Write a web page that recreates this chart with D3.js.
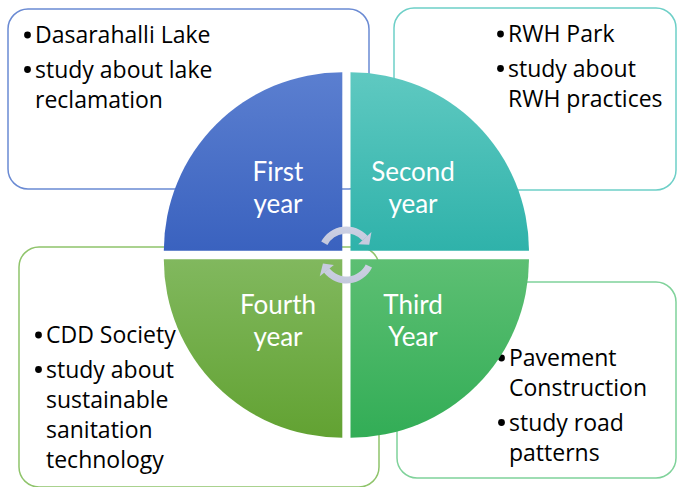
<!DOCTYPE html>
<html><head><meta charset="utf-8">
<script src="https://cdn.jsdelivr.net/npm/d3@7"></script>
<style>html,body{margin:0;padding:0;background:#fff;}svg{display:block;}</style>
</head><body>
<svg id="chart" width="677" height="487"></svg>
<script>
// ---- data ----
const quadrantLabels = [["Second","year"],["Third","Year"],["Fourth","year"],["First","year"]];
const quadrantTop = ["#5fc9c1","#5dbf73","#81b85e","#5b7fd0"];
const quadrantBottom = ["#2fb2aa","#32ad56","#62a232","#3a62bf"];
const boxStroke = ["#6dcfc7","#7fd29a","#8fc46b","#6a8ad3"];
const boxBullets = [
  [["RWH Park"],["study about","RWH practices"]],
  [["Pavement","Construction"],["study road","patterns"]],
  [["CDD Society"],["study about","sustainable","sanitation","technology"]],
  [["Dasarahalli Lake"],["study about lake","reclamation"]]
];

// ---- layout ----
const W = 677, H = 487;
const cx = 346.4, cy = 255, R = 178.5, gx = 4.1, gy = 4.3;
const boxes = [
  {x:394, y:8, w:282, h:182, tx:508, ty:42},
  {x:397, y:282, w:279, h:196, tx:509, ty:366},
  {x:19, y:247, w:360, h:240, tx:46, ty:343},
  {x:8, y:9, w:361, h:180, tx:35, ty:43}
];
const lineH = 30, paraGap = 4.5;
const labelPos = [[413,181],[413,314],[278,314],[278,181]];
const offsets = [[gx,-gy],[gx,gy],[-gx,gy],[-gx,-gy]];

const svg = d3.select("#chart");
const defs = svg.append("defs");
quadrantTop.forEach((c,i)=>{
  const g = defs.append("linearGradient").attr("id","qg"+i).attr("x1",0).attr("y1",0).attr("x2",0).attr("y2",1);
  g.append("stop").attr("offset","0%").attr("stop-color",c);
  g.append("stop").attr("offset","100%").attr("stop-color",quadrantBottom[i]);
});
const ag = defs.append("linearGradient").attr("id","ag").attr("x1",0).attr("y1",0).attr("x2",0).attr("y2",1);
ag.append("stop").attr("offset","0%").attr("stop-color","#cdd1e4");
ag.append("stop").attr("offset","100%").attr("stop-color","#c3c8dc");

// boxes
const boxFont = "'Open Sans', Lato, sans-serif";
const labFont = "Lato, 'Open Sans', sans-serif";
boxes.forEach((b,i)=>{
  svg.append("rect").attr("x",b.x).attr("y",b.y).attr("width",b.w).attr("height",b.h)
    .attr("rx",20).attr("ry",20).attr("fill","#fff")
    .attr("stroke",boxStroke[i]).attr("stroke-width",1.5);
  let y = b.ty;
  const t = svg.append("g").attr("font-family",boxFont).attr("font-size",23).attr("fill","#000");
  boxBullets[i].forEach((para)=>{
    t.append("circle").attr("cx",b.tx-7.5).attr("cy",y-8).attr("r",3.4).attr("fill","#000");
    para.forEach((line)=>{
      t.append("text").attr("x",b.tx).attr("y",y).text(line);
      y += lineH;
    });
    y += paraGap;
  });
});

// quadrants
const arc = d3.arc().innerRadius(0).outerRadius(R);
const pie = d3.pie().sort(null).value(()=>1);
const slices = pie(quadrantLabels);
slices.forEach((s,i)=>{
  svg.append("path")
    .attr("transform",`translate(${cx+offsets[i][0]},${cy+offsets[i][1]})`)
    .attr("d",arc(s)).attr("fill",`url(#qg${i})`);
  const lab = svg.append("g").attr("font-family",labFont).attr("font-size",26).attr("fill","#fff").attr("text-anchor","middle");
  quadrantLabels[i].forEach((l,j)=>{
    lab.append("text").attr("x",labelPos[i][0]).attr("y",labelPos[i][1]+j*32).text(l);
  });
});

// circular arrows
const ar = 25, aw = 7;
const ring = d3.arc().innerRadius(ar-aw/2).outerRadius(ar+aw/2);
const deg = Math.PI/180;
const arrows = [[-62,48],[116,232]];
const ga = svg.append("g").attr("transform",`translate(${cx},${cy})`);
arrows.forEach(([a0,a1])=>{
  ga.append("path").attr("d",ring({startAngle:a0*deg,endAngle:a1*deg})).attr("fill","url(#ag)");
  const pt = (a,r)=>[r*Math.sin(a*deg), -r*Math.cos(a*deg)];
  const p1 = pt(a1-0.5, ar-9), p2 = pt(a1-0.5, ar+9), tip = pt(a1+18, ar);
  ga.append("path").attr("d",`M${p1}L${p2}L${tip}Z`).attr("fill","#c7cbdf");
});
</script>
</body></html>
